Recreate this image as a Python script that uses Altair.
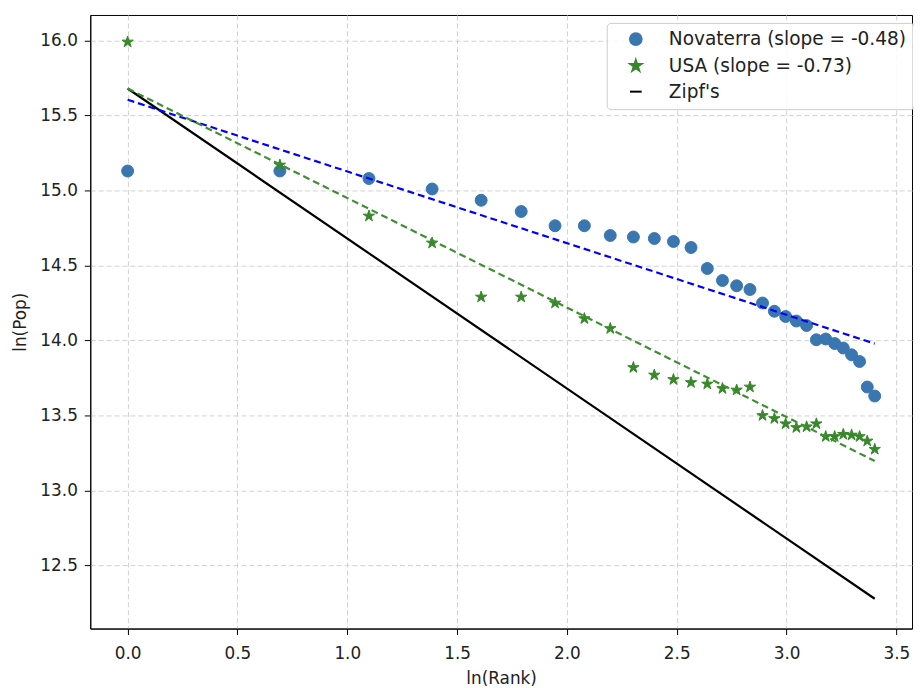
import numpy as np
import pandas as pd
import altair as alt

ranks = list(range(1, 31))
novaterra = [15.13, 15.13, 15.08, 15.01, 14.935, 14.86, 14.765, 14.765, 14.70, 14.69,
             14.68, 14.66, 14.62, 14.48, 14.40, 14.365, 14.34, 14.25, 14.195, 14.16,
             14.13, 14.10, 14.005, 14.01, 13.98, 13.95, 13.905, 13.86, 13.69, 13.63]
usa = [15.99, 15.17, 14.83, 14.65, 14.29, 14.29, 14.25, 14.146, 14.08, 13.82,
       13.77, 13.74, 13.72, 13.71, 13.68, 13.67, 13.69, 13.50, 13.48, 13.445,
       13.42, 13.425, 13.445, 13.36, 13.36, 13.375, 13.37, 13.36, 13.33, 13.275]

series_names = ["Novaterra (slope = -0.48)", "USA (slope = -0.73)", "Zipf's"]
fit_intercepts = [15.605, 15.68, 15.68]
fit_slopes = [-0.478, -0.73, -1.0]

x_ticks = [0.0, 0.5, 1.0, 1.5, 2.0, 2.5, 3.0, 3.5]
y_ticks = [12.5, 13.0, 13.5, 14.0, 14.5, 15.0, 15.5, 16.0]

lnr = np.log(np.array(ranks, dtype=float))
pts = pd.DataFrame({
    "x": np.concatenate([lnr, lnr]),
    "y": novaterra + usa,
    "series": [series_names[0]] * len(ranks) + [series_names[1]] * len(ranks),
})

x_end = [0.0, float(lnr[-1])]
lines = pd.DataFrame({
    "x": x_end * 3,
    "y": [fit_intercepts[i] + fit_slopes[i] * xx for i in range(3) for xx in x_end],
    "series": [n for n in series_names for _ in x_end],
})

star = "M0,-1L0.2245,-0.309L0.951,-0.309L0.363,0.118L0.588,0.809L0,0.382L-0.588,0.809L-0.363,0.118L-0.951,-0.309L-0.2245,-0.309Z"

FS = 17
grid_kw = dict(grid=True, gridDash=[5, 3], gridColor="#d0d0d0", gridWidth=1,
               domainColor="black", tickColor="black", tickSize=6,
               labelFont="DejaVu Sans", labelFontSize=FS, labelColor="#222222",
               titleFont="DejaVu Sans", titleFontSize=FS, titleFontWeight="normal",
               titleColor="#222222")

xs = alt.Scale(domain=[-0.170, 3.571], nice=False, zero=False)
ys = alt.Scale(domain=[12.08, 16.17], nice=False, zero=False)
X = alt.X("x:Q", scale=xs, axis=alt.Axis(values=x_ticks, format=".1f", title="ln(Rank)",
                                         labelPadding=11, titlePadding=9, **grid_kw))
Y = alt.Y("y:Q", scale=ys, axis=alt.Axis(values=y_ticks, format=".1f", title="ln(Pop)",
                                         labelPadding=7, titlePadding=10, **grid_kw))

color_scale = alt.Scale(domain=series_names, range=["#3a76b0", "#38872a", "black"])
shape_scale = alt.Scale(domain=series_names, range=["circle", star, "stroke"])

legend = alt.Legend(
    title=None, orient="none", legendX=521, legendY=8,
    fillColor="rgba(255,255,255,0.85)",
    strokeColor="#cccccc", cornerRadius=4, padding=7,
    labelFont="DejaVu Sans", labelFontSize=18.7, labelColor="#222222", labelLimit=400,
    symbolStrokeWidth=2, symbolSize=140, rowPadding=6, labelOffset=24, symbolOffset=13,
    symbolOpacity=1,
)

points = alt.Chart(pts).mark_point(filled=True, opacity=1, strokeWidth=1, size=145).encode(
    x=X, y=Y,
    color=alt.Color("series:N", scale=color_scale, legend=legend),
    stroke=alt.Stroke("series:N", scale=color_scale, legend=legend),
    shape=alt.Shape("series:N", scale=shape_scale, legend=legend),
)

zipf = alt.Chart(lines[lines.series == series_names[2]]).mark_line(strokeWidth=2.2).encode(
    x=X, y=Y, color=alt.Color("series:N", scale=color_scale, legend=legend))

fit_nov = alt.Chart(lines[lines.series == series_names[0]]).mark_line(
    color="blue", strokeDash=[7, 4], strokeWidth=2.2).encode(x=X, y=Y)
fit_usa = alt.Chart(lines[lines.series == series_names[1]]).mark_line(
    color="#3c9030", strokeDash=[7, 4], strokeWidth=2.2).encode(x=X, y=Y)

chart = alt.layer(points, zipf, fit_nov, fit_usa).properties(
    width=829, height=619,
    autosize=alt.AutoSizeParams(type="none"),
    padding={"left": 83, "top": 4, "right": 2, "bottom": 66},
).configure(background="white").configure_view(stroke="black", strokeWidth=1)

chart.save("out.html", embed_options={"renderer": "svg", "actions": False})
